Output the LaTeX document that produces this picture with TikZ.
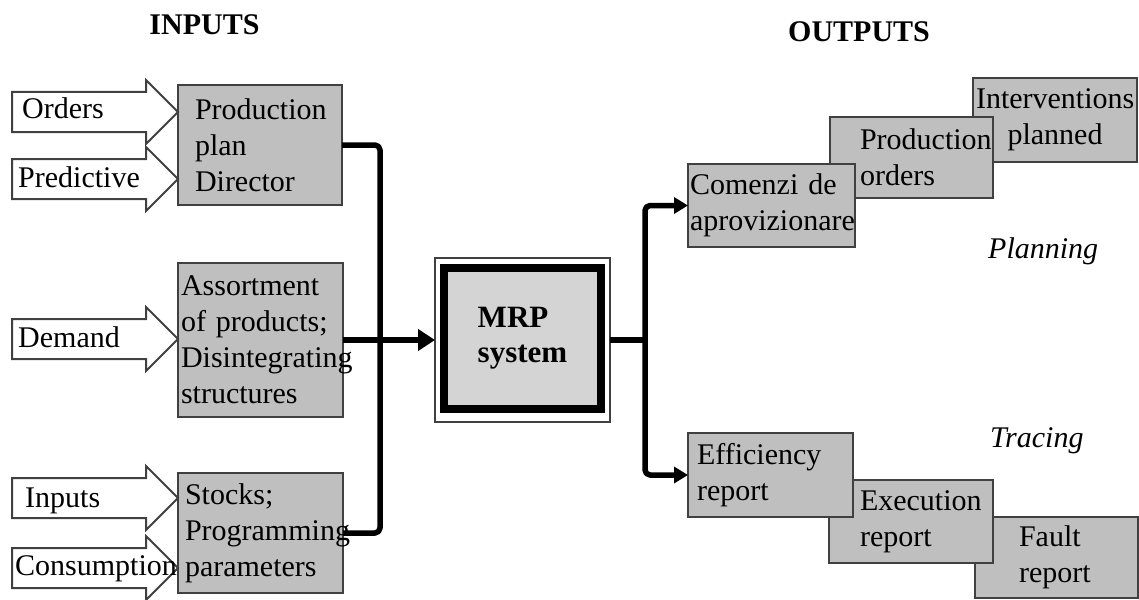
\documentclass[tikz,border=0pt]{standalone}
\usepackage{fontspec}
\setmainfont{Liberation Serif}
\usetikzlibrary{arrows.meta,shapes.arrows,positioning}
\newcommand{\bodyfont}{\fontsize{30}{36}\selectfont}
\tikzset{
  box/.style={
    draw=black!75, line width=2.2pt, fill=black!25, anchor=north west,
    align=left, inner ysep=0pt, outer sep=0pt, font=\bodyfont
  },
  inarrow/.style={
    single arrow, draw=black!75, line width=2pt, fill=white,
    single arrow head extend=12pt, minimum height=166pt,
    text height=38pt, text depth=0pt, inner sep=0pt, outer sep=0pt, anchor=tip
  },
  inlabel/.style={anchor=base west, inner sep=0pt, font=\bodyfont},
  title/.style={anchor=base, inner sep=0pt, font=\fontsize{30}{36}\selectfont\bfseries},
  phase/.style={anchor=base west, inner sep=0pt, font=\fontsize{30}{36}\selectfont\itshape},
  bus/.style={line width=5.5pt, line join=round, draw=black},
}
\begin{document}
\begin{tikzpicture}[x=1pt, y=-1pt]
  \useasboundingbox (0,0) rectangle (1139,599);
  % titles
  \node[title] (inputs) at (204.5,35) {INPUTS};
  \node[title] (outputs) at (859,42) {OUTPUTS};
  % input boxes
  \node[box, text width=130pt, inner xsep=17pt, minimum height=120pt] (plan) at (178,85) {Production\\plan\\Director};
  \node[box, text width=159pt, inner xsep=3pt, minimum height=154pt] (assort) at (178,263) {Assortment\\of products;\\Disintegrating\\structures};
  \node[box, text width=151pt, inner xsep=7pt, minimum height=120pt] (stocks) at (178,473) {Stocks;\\Programming\\parameters};
  % input arrows
  \node[inarrow] (a-orders) at (plan.west |- 0,112) {};
  \node[inarrow] (a-predictive) at (plan.west |- 0,179) {};
  \node[inarrow] (a-demand) at (assort.west |- 0,339) {};
  \node[inarrow] (a-inputs) at (stocks.west |- 0,498) {};
  \node[inarrow] (a-consumption) at (stocks.west |- 0,568) {};
  \node[inlabel] (orders) at (22,118) {Orders};
  \node[inlabel] (predictive) at (18,187) {Predictive};
  \node[inlabel] (demand) at (18,347) {Demand};
  \node[inlabel] (inputs-l) at (25,507) {Inputs};
  \node[inlabel] (consumption) at (15,575) {Consumption};
  % MRP system
  \node[draw=black!75, line width=1.5pt, fill=white, minimum width=175pt, minimum height=164pt, outer sep=0pt] (mrpframe) at (522.5,340) {};
  \node[draw=black, line width=8pt, fill=black!17, minimum width=157pt, minimum height=141pt, outer sep=0pt,
        align=left, font=\fontsize{31}{35}\selectfont\bfseries] (mrp) at (522.5,338.5) {MRP\\system};
  % output boxes
  \node[box, text width=158pt, inner xsep=3pt, minimum height=84pt, align=center] (interv) at (973,78) {Interventions\\planned};
  \node[box, text width=103pt, inner xsep=30pt, minimum height=81pt] (prodord) at (830,117) {Production\\orders};
  \node[box, text width=163pt, inner xsep=2pt, minimum height=83pt] (comenzi) at (688,164) {Comenzi de\\aprovizionare};
  \node[box, text width=75pt, inner xsep=44pt, minimum height=81pt] (fault) at (975,517) {Fault\\report};
  \node[box, text width=102pt, inner xsep=31pt, minimum height=83pt] (exec) at (829,480) {Execution\\report};
  \node[box, text width=147pt, inner xsep=9pt, minimum height=84pt] (effic) at (688,433) {Efficiency\\report};
  \node[phase] (planning) at (988,258) {Planning};
  \node[phase] (tracing) at (990,447) {Tracing};
  % connectors
  \coordinate (jL) at (380,340);
  \coordinate (jR) at (645,340);
  \draw[bus, rounded corners=5pt] (plan.east) -| (jL) |- (stocks.east);
  \draw[bus, -{Triangle[length=17pt,width=21pt]}] (assort.east) -- (mrpframe.west);
  \draw[bus] (mrpframe.east) -- (jR);
  \draw[bus, rounded corners=5pt, -{Triangle[length=14pt,width=16pt]}] (jR) |- (comenzi.west);
  \draw[bus, rounded corners=5pt, -{Triangle[length=14pt,width=16pt]}] (jR) |- (effic.west);
\end{tikzpicture}
\end{document}
